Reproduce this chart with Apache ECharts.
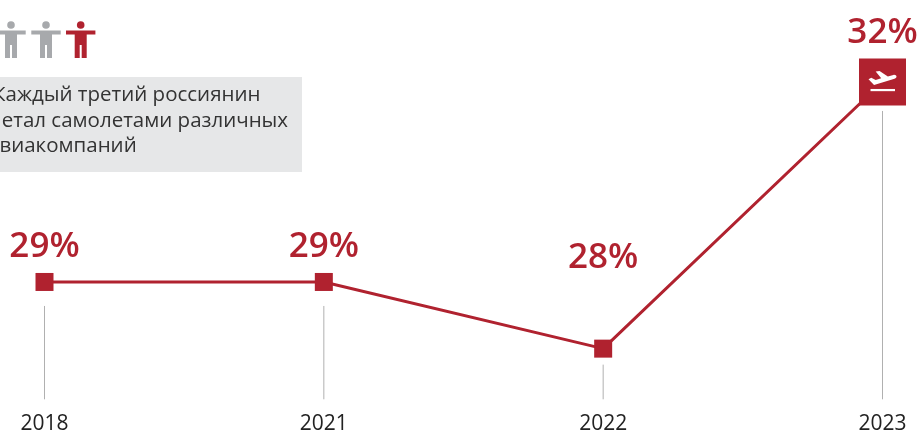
<!DOCTYPE html>
<html>
<head>
<meta charset="utf-8">
<style>
  html, body { margin: 0; padding: 0; background: #fff; overflow: hidden; }
  #chart { width: 919px; height: 430px; }
</style>
<script src="https://cdn.jsdelivr.net/npm/echarts@6/dist/echarts.min.js"></script>
</head>
<body>
<div id="chart"></div>
<script>
var years = ['2018', '2021', '2022', '2023']
var shares = [29, 29, 28, 32]
var noteLines = ['Каждый третий россиянин', 'летал самолетами различных', 'авиакомпаний']

var RED = '#b0222f'
var GRAY = '#a7a9ac'
var FONT = '"Open Sans", sans-serif'

// расстояние подписи над точкой и начало вертикальной линии под точкой
var labelGap = [8, 8, 64, 8]
var dropGap = [24, 24, 16, 29]

// человечек из шапки
function person(cx, color) {
  return {
    type: 'group',
    x: cx,
    children: [
      { type: 'circle', shape: { cx: 0, cy: 25, r: 3.8 }, style: { fill: color } },
      {
        type: 'polygon',
        shape: { points: [[-14.7, 30.5], [14.7, 30.5], [14.7, 34.5], [6, 34.5], [6, 58], [1, 58], [1, 45], [-1, 45], [-1, 58], [-6, 58], [-6, 34.5], [-14.7, 34.5]] },
        style: { fill: color }
      }
    ]
  }
}

var chart = echarts.init(document.getElementById('chart'))

var option = {
  animation: false,
  grid: { left: 44.5, right: 36.5, top: 15.3, bottom: 30.7, outerBoundsMode: 'none' },
  xAxis: {
    type: 'category',
    boundaryGap: false,
    data: years,
    axisLine: { show: false },
    axisTick: { show: false },
    axisLabel: { color: '#222', fontFamily: FONT, fontSize: 21, margin: 14 }
  },
  yAxis: { type: 'value', min: 27.24, max: 33, show: false },
  series: [
    {
      // вертикальные линии от точек к подписям годов
      type: 'custom',
      z: 1,
      silent: true,
      data: shares.map(function (v, i) { return [i, v, dropGap[i]] }),
      renderItem: function (params, api) {
        var top = api.coord([api.value(0), api.value(1)])
        var bottom = api.coord([api.value(0), 27.24])
        return {
          type: 'line',
          shape: { x1: top[0], y1: top[1] + api.value(2), x2: bottom[0], y2: bottom[1] },
          style: { stroke: '#b0b0b0', lineWidth: 1 }
        }
      }
    },
    {
      type: 'line',
      z: 2,
      silent: true,
      data: shares.map(function (v, i) {
        return {
          value: v,
          symbolSize: i === 3 ? 47 : 18,
          label: { distance: labelGap[i] }
        }
      }),
      symbol: 'rect',
      lineStyle: { color: RED, width: 3 },
      itemStyle: { color: RED },
      label: {
        show: true,
        position: 'top',
        formatter: '{c}%',
        color: RED,
        fontFamily: FONT,
        fontWeight: 600,
        fontSize: 35
      }
    },
    {
      // самолет на последней точке
      type: 'custom',
      z: 3,
      silent: true,
      data: [[3, shares[3]]],
      renderItem: function (params, api) {
        var p = api.coord([api.value(0), api.value(1)])
        return {
          type: 'group',
          x: p[0],
          y: p[1],
          children: [
            {
              type: 'path',
              shape: { pathData: 'M-12.5,-3 L-10,-4.5 L-6,-2.5 L-1,-4 L-6,-10 L-2.5,-10.5 L5,-5.5 L10,-7 C13,-7.5 14,-4.5 11,-3.5 L-7.5,2 Z', x: -14, y: -11, width: 28, height: 14 },
              style: { fill: '#fff' }
            },
            { type: 'rect', shape: { x: -12, y: 7, width: 24.5, height: 2.2 }, style: { fill: '#fff' } }
          ]
        }
      }
    }
  ],
  graphic: [
    { type: 'rect', shape: { x: -10, y: 77, width: 312, height: 95 }, style: { fill: '#e6e7e8' }, z: 0 },
    person(11, GRAY),
    person(46, GRAY),
    person(80.7, RED)
  ].concat(noteLines.map(function (line, i) {
    return {
      type: 'text',
      z: 1,
      x: [-7, -10, -12][i],
      y: 95 + i * 25.7,
      style: { text: line, fill: '#333', font: '400 20.5px ' + FONT, verticalAlign: 'middle' }
    }
  }))
}

chart.setOption(option)
</script>
</body>
</html>
